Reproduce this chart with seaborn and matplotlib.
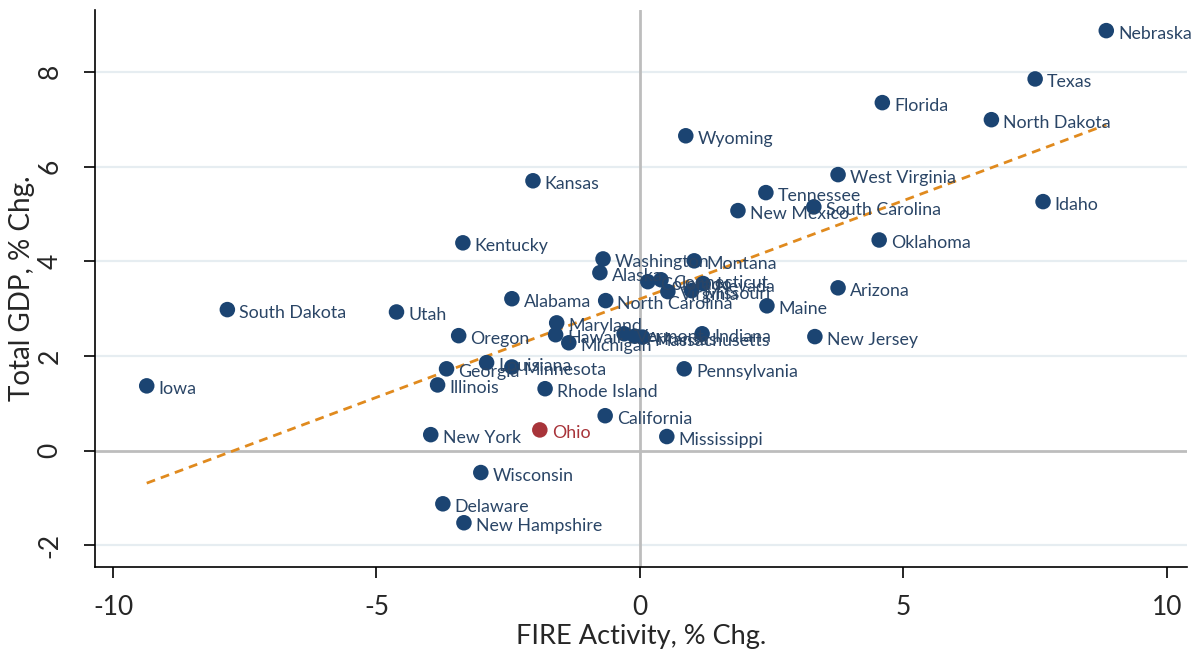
import matplotlib
matplotlib.use("Agg")
import matplotlib.pyplot as plt
import seaborn as sns
import pandas as pd

states = ["Nebraska", "Texas", "Florida", "North Dakota", "Wyoming", "West Virginia",
          "Kansas", "Tennessee", "Idaho", "New Mexico", "South Carolina", "Kentucky",
          "Oklahoma", "Washington", "Montana", "Alaska", "Colorado", "Connecticut",
          "Virginia", "Missouri", "Nevada", "Alabama", "North Carolina", "Maine",
          "Arizona", "South Dakota", "Utah", "Maryland", "Oregon", "Hawaii", "Michigan",
          "Vermont", "Arkansas", "Massachusetts", "Indiana", "New Jersey", "Louisiana",
          "Georgia", "Minnesota", "Iowa", "Illinois", "Rhode Island", "Pennsylvania",
          "California", "Ohio", "New York", "Mississippi", "Wisconsin", "Delaware",
          "New Hampshire"]
fire_chg = [8.85, 7.50, 4.60, 6.67, 0.87, 3.76,
            -2.03, 2.39, 7.65, 1.86, 3.30, -3.36,
            4.54, -0.70, 1.03, -0.76, 0.15, 0.40,
            0.53, 0.98, 1.20, -2.43, -0.65, 2.41,
            3.76, -7.83, -4.62, -1.58, -3.44, -1.60, -1.35,
            -0.30, -0.10, 0.05, 1.18, 3.32, -2.91,
            -3.67, -2.43, -9.36, -3.84, -1.80, 0.84,
            -0.66, -1.90, -3.97, 0.51, -3.02, -3.74,
            -3.34]
gdp_chg = [8.87, 7.85, 7.35, 6.99, 6.65, 5.83,
           5.70, 5.45, 5.26, 5.07, 5.15, 4.39,
           4.45, 4.05, 4.01, 3.76, 3.57, 3.61,
           3.36, 3.38, 3.53, 3.21, 3.17, 3.06,
           3.44, 2.98, 2.93, 2.70, 2.43, 2.45, 2.28,
           2.47, 2.42, 2.40, 2.47, 2.41, 1.86,
           1.73, 1.77, 1.37, 1.39, 1.31, 1.73,
           0.74, 0.44, 0.34, 0.30, -0.46, -1.12,
           -1.52]
highlight = "Ohio"
x_ticks = [-10, -5, 0, 5, 10]
y_ticks = [-2, 0, 2, 4, 6, 8]

df = pd.DataFrame({"state": states, "fire": fire_chg, "gdp": gdp_chg})
df["group"] = ["hl" if s == highlight else "other" for s in df["state"]]

sns.set_style("white")
plt.rcParams["font.family"] = ["Lato", "DejaVu Sans"]
plt.rcParams["axes.unicode_minus"] = False

navy = "#1b4472"
red = "#a8343a"
label_col = "#2a4566"

fig = plt.figure(figsize=(11.97, 6.53), dpi=100)
ax = fig.add_axes([0.079, 0.132, 0.913, 0.853])

for yv in [t for t in y_ticks if t != 0]:
    ax.axhline(yv, color="#e6edf1", lw=1.6, zorder=0)
ax.axhline(0, color="#bdbdbd", lw=2, zorder=1)
ax.axvline(0, color="#bdbdbd", lw=2, zorder=1)

sns.regplot(data=df, x="fire", y="gdp", scatter=False, ci=None, ax=ax,
            line_kws=dict(color="#e08a1e", lw=2, linestyle=(0, (3.2, 2.2)), zorder=2))

sns.scatterplot(data=df, x="fire", y="gdp", hue="group",
                palette={"other": navy, "hl": red}, s=125, edgecolor="none",
                legend=False, ax=ax, zorder=3)

for s, xv, yv in zip(states, fire_chg, gdp_chg):
    ax.annotate(s, (xv, yv), xytext=(8.5, -2.5), textcoords="offset points",
                ha="left", va="center", fontsize=12.8,
                color=red if s == highlight else label_col, zorder=4)

ax.set_xlim(-10.35, 10.39)
ax.set_ylim(-2.45, 9.31)
ax.set_xticks(x_ticks)
ax.set_xticklabels([str(t) for t in x_ticks])
ax.set_yticks(y_ticks)
ax.set_yticklabels([str(t) for t in y_ticks], rotation=90, va="center")
ax.tick_params(axis="both", direction="out", length=8, width=1.2, color="black",
               labelsize=19, left=True, bottom=True)
ax.tick_params(axis="y", pad=15)
ax.tick_params(axis="x", pad=12)
ax.set_xlabel("FIRE Activity, % Chg.", fontsize=19.5, labelpad=3)
ax.set_ylabel("Total GDP, % Chg.", fontsize=20, labelpad=2)

for side in ["top", "right"]:
    ax.spines[side].set_visible(False)
for side in ["left", "bottom"]:
    ax.spines[side].set_color("black")
    ax.spines[side].set_linewidth(1.2)

fig.savefig("out.png", dpi=100, facecolor="white")
